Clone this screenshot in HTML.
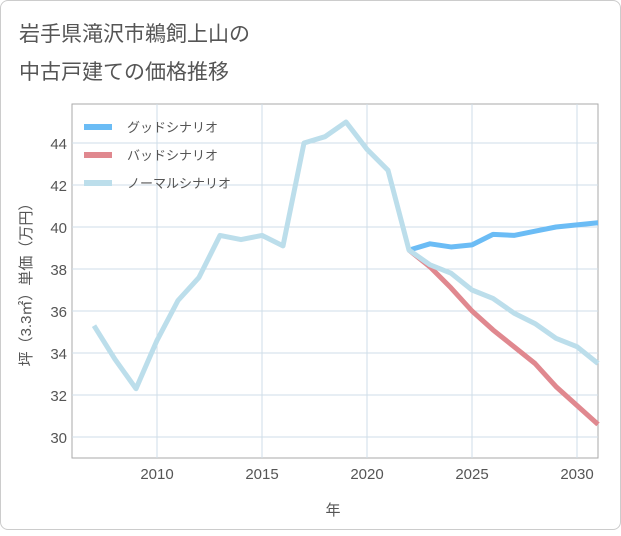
<!DOCTYPE html>
<html><head><meta charset="utf-8"><style>
body{margin:0;background:#fff;}
#card{position:absolute;left:0;top:0;width:619px;height:528px;border:1px solid #ccc;border-radius:8px;background:#fff;}
svg text{font-family:"Liberation Sans","Noto Sans CJK JP",sans-serif;}
</style></head><body>
<div id="card">
<svg id="c" width="621" height="530">
<text x="18" y="40" font-size="21" fill="#555">岩手県滝沢市鵜飼上山の</text>
<text x="18" y="78" font-size="21" fill="#555">中古戸建ての価格推移</text>
<g id="grid"></g><g id="lines"></g><g id="axes"></g>
<text x="332" y="514" font-size="15" fill="#555" text-anchor="middle">年</text>
<text transform="translate(30,280) rotate(-90)" font-size="15" fill="#555" text-anchor="middle">坪（3.3㎡）単価（万円）</text>
</svg></div>
<script>
const years=[2007,2008,2009,2010,2011,2012,2013,2014,2015,2016,2017,2018,2019,2020,2021,2022,2023,2024,2025,2026,2027,2028,2029,2030,2031];
const normal=[35.3,33.7,32.3,34.6,36.5,37.6,39.6,39.4,39.6,39.1,44.0,44.3,45.0,43.7,42.7,38.9,38.2,37.8,37.0,36.6,35.9,35.4,34.7,34.3,33.5];
const futureYears=[2022,2023,2024,2025,2026,2027,2028,2029,2030,2031];
const good=[38.9,39.2,39.05,39.15,39.65,39.6,39.8,40.0,40.1,40.2];
const bad=[38.9,38.1,37.1,36.0,35.1,34.3,33.5,32.4,31.5,30.6];
const xTicks=[2010,2015,2020,2025,2030];
const yTicks=[30,32,34,36,38,40,42,44];
const X=v=>156+(v-2010)*21, Y=v=>436-(v-30)*21;
const NS="http://www.w3.org/2000/svg";
function mk(p,t,a){const e=document.createElementNS(NS,t);for(const k in a)e.setAttribute(k,a[k]);p.appendChild(e);return e;}
const grid=document.getElementById('grid'),lines=document.getElementById('lines'),axes=document.getElementById('axes');
mk(grid,'rect',{x:71,y:103,width:526,height:354,fill:'none',stroke:'#aaa','stroke-width':1});
xTicks.forEach(t=>{
 const l=mk(grid,'line',{x1:X(t),x2:X(t),y1:103,y2:457,stroke:'#cfdde8'});
 
 
 const tx=mk(axes,'text',{x:X(t),y:478,'font-size':15,fill:'#555','text-anchor':'middle'});tx.textContent=t;
 
 
});
yTicks.forEach(t=>{
 const l=mk(grid,'line',{x1:71,x2:597,y1:Y(t),y2:Y(t),stroke:'#cfdde8'});
 
 
 const tx=mk(axes,'text',{x:66,y:Y(t)+6,'font-size':15,fill:'#555','text-anchor':'end'});tx.textContent=t;
 
 
});
function series(xs,vs,color,name){
 const p=mk(lines,'polyline',{points:xs.map((x,i)=>X(x)+','+Y(vs[i])).join(' '),fill:'none',stroke:color,'stroke-width':5,'stroke-linejoin':'round'});
 
 
}
series(futureYears,bad,'#e0888f','bad-scenario-line');
series(futureYears,good,'#6bbcf5','good-scenario-line');
series(years,normal,'#bcdeeb','normal-scenario-line');
const leg=[['グッドシナリオ','#6bbcf5'],['バッドシナリオ','#e0888f'],['ノーマルシナリオ','#bcdeeb']];
leg.forEach((d,i)=>{
 const g=mk(axes,'g',{});
 
 
 mk(g,'line',{x1:83,x2:111,y1:126+i*28,y2:126+i*28,stroke:d[1],'stroke-width':6});
 const t=mk(g,'text',{x:126,y:131+i*28,'font-size':13,fill:'#555'});t.textContent=d[0];
});
</script>
</body></html>
